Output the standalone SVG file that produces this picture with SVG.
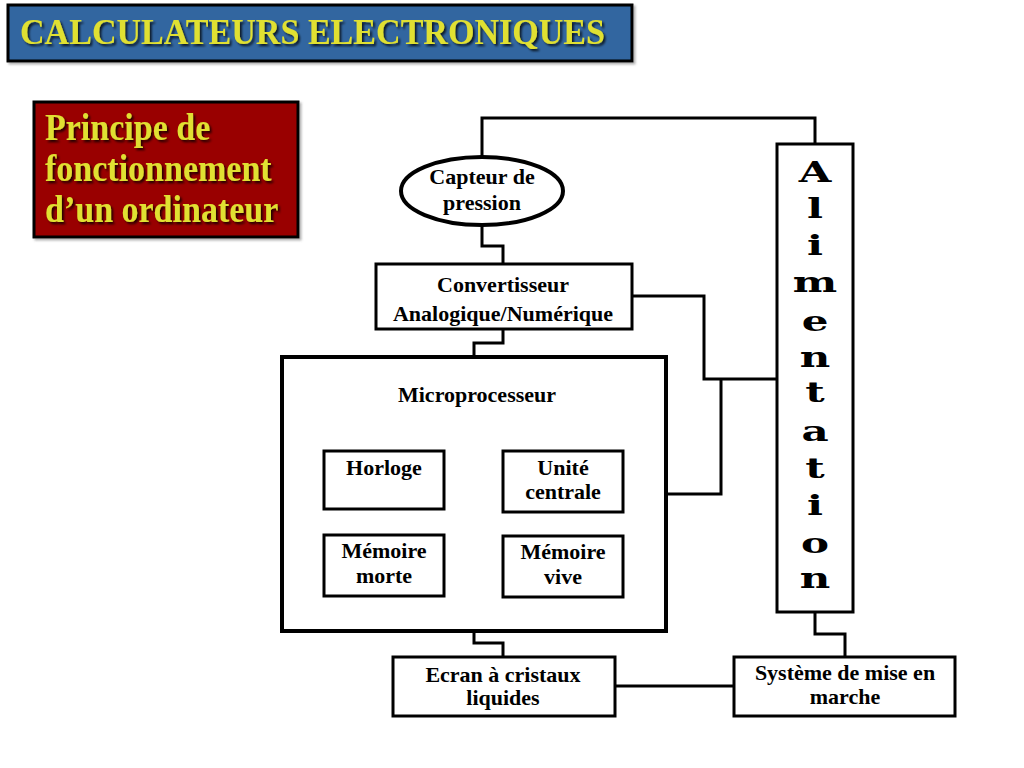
<svg xmlns="http://www.w3.org/2000/svg" width="1024" height="768" viewBox="0 0 1024 768">
<defs>
<style>
.box{fill:#fff;stroke:#000;stroke-width:3}
.thick{fill:#fff;stroke:#000;stroke-width:4}
.wire{fill:none;stroke:#000;stroke-width:3;stroke-linejoin:miter}
.lbl{font-family:"Liberation Serif","Times New Roman",serif;font-weight:bold;font-size:22px;fill:#000;text-anchor:middle}
.head{font-family:"Liberation Serif","Times New Roman",serif;font-weight:bold;fill:#E0E030}
.alim{font-family:"DejaVu Serif",serif;font-weight:bold;font-size:28px;fill:#000;text-anchor:middle}
</style>
<filter id="sh" x="-5%" y="-20%" width="110%" height="140%">
<feDropShadow dx="2" dy="2" stdDeviation="0.8" flood-color="#000" flood-opacity="0.75"/>
</filter>
<filter id="bsh" x="-5%" y="-10%" width="110%" height="120%">
<feDropShadow dx="2" dy="2" stdDeviation="1" flood-color="#666" flood-opacity="0.5"/>
</filter>
</defs>
<rect width="1024" height="768" fill="#fff"/>

<g id="title">
<rect x="8" y="5" width="624" height="56" fill="#3366A0" stroke="#000" stroke-width="3" filter="url(#bsh)"/>
<text class="head" transform="translate(20,44) scale(1,1.08)" font-size="33" textLength="585" lengthAdjust="spacingAndGlyphs" filter="url(#sh)">CALCULATEURS ELECTRONIQUES</text>
</g>

<g id="subtitle">
<rect x="34" y="102" width="264" height="135" fill="#990000" stroke="#000" stroke-width="3" filter="url(#bsh)"/>
<text class="head" font-size="34" transform="translate(45,140) scale(1,1.1)" filter="url(#sh)"><tspan x="0" y="0">Principe de</tspan><tspan x="0" y="37.3">fonctionnement</tspan><tspan x="0" y="74.5">d’un ordinateur</tspan></text>
</g>

<g id="connectors">
<polyline class="wire" points="482,156 482,118 815,118 815,144"/>
<polyline class="wire" points="482,225 482,246 503,246 503,263"/>
<polyline class="wire" points="503,329 503,343 474,343 474,357"/>
<polyline class="wire" points="632,296 704,296 704,379 776,379"/>
<polyline class="wire" points="666,494 721,494 721,379"/>
<polyline class="wire" points="474,631 474,643 503,643 503,656"/>
<polyline class="wire" points="815,612 815,634 845,634 845,656"/>
<line class="wire" x1="615" y1="686" x2="733" y2="686"/>
</g>

<g id="capteur">
<ellipse class="thick" cx="482" cy="191" rx="81" ry="34"/>
<text class="lbl" x="482" y="184">Capteur de</text>
<text class="lbl" x="482" y="210">pression</text>
</g>

<g id="convertisseur">
<rect class="box" x="376" y="264" width="256" height="65"/>
<text class="lbl" x="503" y="292">Convertisseur</text>
<text class="lbl" x="503" y="321">Analogique/Numérique</text>
</g>

<g id="microprocesseur">
<rect class="thick" x="282" y="357" width="384" height="274"/>
<text class="lbl" x="477" y="402">Microprocesseur</text>
</g>

<g id="horloge">
<rect class="box" x="324" y="451" width="120" height="58"/>
<text class="lbl" x="384" y="475">Horloge</text>
</g>

<g id="unite-centrale">
<rect class="box" x="503" y="451" width="120" height="61"/>
<text class="lbl" x="563" y="475">Unité</text>
<text class="lbl" x="563" y="499">centrale</text>
</g>

<g id="memoire-morte">
<rect class="box" x="324" y="535" width="120" height="61"/>
<text class="lbl" x="384" y="558">Mémoire</text>
<text class="lbl" x="384" y="583">morte</text>
</g>

<g id="memoire-vive">
<rect class="box" x="503" y="536" width="120" height="61"/>
<text class="lbl" x="563" y="559">Mémoire</text>
<text class="lbl" x="563" y="584">vive</text>
</g>

<g id="ecran">
<rect class="box" x="393" y="657" width="222" height="59"/>
<text class="lbl" x="503" y="682">Ecran à cristaux</text>
<text class="lbl" x="503" y="705">liquides</text>
</g>

<g id="systeme">
<rect class="box" x="734" y="657" width="221" height="59"/>
<text class="lbl" x="845" y="680">Système de mise en</text>
<text class="lbl" x="845" y="704">marche</text>
</g>

<g id="alimentation">
<rect class="box" x="777" y="144" width="76" height="468"/>
<text class="alim" transform="translate(815,182) scale(1.5,1)">A</text>
<text class="alim" transform="translate(815,218) scale(1.5,1)">l</text>
<text class="alim" transform="translate(815,255) scale(1.5,1)">i</text>
<text class="alim" transform="translate(815,292) scale(1.5,1)">m</text>
<text class="alim" transform="translate(815,331) scale(1.5,1)">e</text>
<text class="alim" transform="translate(815,367) scale(1.5,1)">n</text>
<text class="alim" transform="translate(815,402) scale(1.5,1)">t</text>
<text class="alim" transform="translate(815,441) scale(1.5,1)">a</text>
<text class="alim" transform="translate(815,478) scale(1.5,1)">t</text>
<text class="alim" transform="translate(815,515) scale(1.5,1)">i</text>
<text class="alim" transform="translate(815,553) scale(1.5,1)">o</text>
<text class="alim" transform="translate(815,588) scale(1.5,1)">n</text>
</g>
</svg>
